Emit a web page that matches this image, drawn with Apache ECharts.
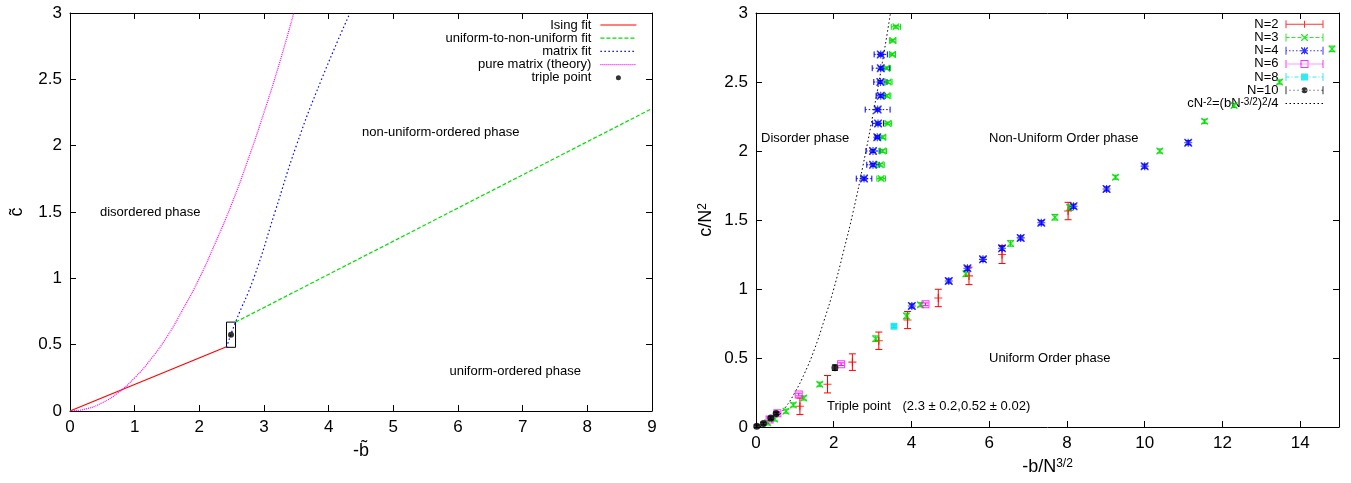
<!DOCTYPE html>
<html><head><meta charset="utf-8">
<script src="https://cdn.jsdelivr.net/npm/echarts@6/dist/echarts.min.js"></script>
<style>html,body{margin:0;padding:0;background:#fff}#c{width:1351px;height:483px}</style>
</head><body><div id="c"></div>
<script>
// ================= DATA =================
// Left panel (c~ vs -b~)
const leftXTicks = [0,1,2,3,4,5,6,7,8,9];
const leftYTicks = [0,0.5,1,1.5,2,2.5,3];
const isingFit   = [[0,0],[2.42,0.484]];
const uniformFit = [[2.56,0.67],[9,2.28]];
const matrixFit  = [[2.42,0.48],[2.56,0.67],[2.84,1.0],[3.17,1.5],[3.50,2.0],[3.89,2.5],[4.33,3.0]];
const pureMatrix = [[0,0],[0.25,0.016],[0.5,0.063],[0.75,0.14],[1,0.25],[1.25,0.39],[1.5,0.56],[1.75,0.77],[2,1.0],[2.25,1.27],[2.5,1.56],[2.75,1.89],[3,2.25],[3.25,2.64],[3.46,3.0]];
const triplePoint = [[2.49,0.575,0.07,0.095]]; // x, y, xerr, yerr (box)

// Right panel (c/N^2 vs -b/N^{3/2}); each point: [x, y, xerr, yerr]
const n2 = [[1.13,0.15,0,0.06],[1.84,0.31,0,0.063],[2.48,0.47,0,0.06],[3.16,0.625,0,0.063],[3.90,0.775,0,0.062],
            [4.69,0.935,0,0.063],[5.48,1.095,0,0.063],[6.33,1.25,0,0.065],[8.03,1.565,0,0.063]];
const n3 = [[0.30,0.03,0,0.015],[0.48,0.058,0,0.015],[0.77,0.115,0,0.015],[0.96,0.16,0,0.015],[1.23,0.21,0,0.015],[1.64,0.31,0,0.015],
            [3.08,0.64,0,0.02],[3.87,0.805,0,0.02],[4.23,0.886,0,0.015],[5.40,1.11,0,0.02],[6.55,1.33,0,0.02],[7.69,1.52,0,0.02],
            [8.07,1.59,0,0.02],[9.25,1.81,0,0.015],[10.39,2.0,0,0.015],[11.54,2.215,0,0.015],[12.30,2.33,0,0.015],[13.47,2.50,0,0.015],[14.82,2.74,0,0.02],
            [3.60,2.9,0.12,0.01],[3.52,2.8,0.08,0.01],[3.51,2.7,0.08,0.01],[3.36,2.6,0.1,0.01],[3.40,2.5,0.1,0.01],[3.37,2.4,0.1,0.01],
            [3.39,2.2,0.1,0.01],[3.26,2.1,0.08,0.01],[3.26,2.0,0.1,0.01],[3.20,1.9,0.1,0.01],[3.22,1.8,0.11,0.01]];
const n4 = [[3.21,2.7,0.17,0.01],[3.21,2.6,0.22,0.01],[3.20,2.5,0.17,0.01],[3.21,2.4,0.12,0.01],[3.13,2.3,0.32,0.01],
            [3.14,2.2,0.14,0.01],[3.12,2.1,0.05,0.01],[3.01,2.0,0.18,0.01],[3.01,1.9,0.16,0.01],[2.78,1.8,0.2,0.01],
            [4.01,0.877,0,0.015],[4.96,1.058,0,0.015],[5.44,1.15,0,0.015],[5.84,1.215,0,0.015],[6.33,1.295,0,0.015],[6.81,1.37,0,0.015],
            [7.34,1.48,0,0.015],[8.17,1.60,0,0.015],[9.02,1.725,0,0.015],[10.0,1.89,0,0.015],[11.12,2.06,0,0.015]];
const n6 = [[0.35,0.055,0,0.01],[0.55,0.10,0,0.01],[1.10,0.235,0,0.01],[2.19,0.455,0,0.01],[4.36,0.889,0,0.01]];
const n8 = [[3.55,0.73,0,0.01]];
const n10 = [[0.02,0.005,0,0.01],[0.19,0.025,0,0.01],[0.38,0.065,0,0.01],[0.52,0.097,0,0.01],[2.03,0.43,0,0.02]];
const theoryCurve = [[0,0],[0.25,0.016],[0.5,0.063],[0.75,0.14],[1,0.25],[1.25,0.39],[1.5,0.56],[1.75,0.77],[2,1.0],[2.25,1.27],[2.5,1.56],[2.75,1.89],[3,2.25],[3.25,2.64],[3.46,3.0]];

// ================= STYLE HELPERS =================
const FONT = 'Liberation Sans, Arial, Helvetica, sans-serif';
function R(x,y,w,h){return 'M'+x+','+y+'h'+w+'v'+h+'h'+(-w)+'z';}
const mPlus = R(18.5,0.5,1,7)+R(15.5,3.5,7,1);
const mX = 'M15.5,0.5L16.5,0.5L22.5,6.5L22.5,7.5L21.5,7.5L15.5,1.5Z M21.5,0.5L22.5,0.5L22.5,1.5L16.5,7.5L15.5,7.5L15.5,6.5Z';
const mBox = 'M15,0h8v8h-8z M16,1v6h6v-6z';
const mFill = R(15.5,0.5,7,7);
const mCirc = 'M16,4a3,3 0 1,0 6,0a3,3 0 1,0 -6,0z';
function legIcon(pattern, marker){
  let p = R(0,0,1,8)+R(37,0,1,8);
  if(!pattern){ p += R(0,3.5,38,1); }
  else { let x=0, k=0; while(x<38){ const on=pattern[k%pattern.length], off=pattern[(k+1)%pattern.length]; p+=R(x,3.5,Math.min(on,38-x),1); x+=on+off; k+=2; } }
  return 'path://'+p+' '+marker;
}
const symPlus = 'path://M3,0h1v7h-1z M0,3h7v1h-7z';
const symX = 'path://M0,0L1,0L7,6L7,7L6,7L0,1Z M6,0L7,0L7,1L1,7L0,7L0,6Z';
const symStar = 'path://M0,0L1,0L7,6L7,7L6,7L0,1Z M6,0L7,0L7,1L1,7L0,7L0,6Z M3,0h1v7h-1z M0,3h7v1h-7z';
const symBox = 'path://M0,0h8v8h-8z M1,1v6h6v-6z M3.5,3.5h1v1h-1z';
const noSym = {color:'rgba(0,0,0,0)', borderColor:'rgba(0,0,0,0)', borderWidth:0, opacity:0};

function errRender(cap, dash, width){
  return function(params, api){
    const x=api.value(0), y=api.value(1), ex=api.value(2), ey=api.value(3);
    const color = api.visual('color');
    const cst = {stroke: color, lineWidth: width, fill: null};
    const dst = {stroke: color, lineWidth: width, fill: null, lineDash: dash};
    const ch = [];
    if(ey>0){
      const a=api.coord([x,y+ey]), b=api.coord([x,y-ey]);
      ch.push({type:'line', shape:{x1:a[0],y1:a[1],x2:b[0],y2:b[1]}, style:cst});
      ch.push({type:'line', shape:{x1:a[0]-cap,y1:a[1],x2:a[0]+cap,y2:a[1]}, style:cst});
      ch.push({type:'line', shape:{x1:b[0]-cap,y1:b[1],x2:b[0]+cap,y2:b[1]}, style:cst});
    }
    if(ex>0){
      const a=api.coord([x-ex,y]), b=api.coord([x+ex,y]);
      ch.push({type:'line', shape:{x1:a[0],y1:a[1],x2:b[0],y2:b[1]}, style:dst});
      ch.push({type:'line', shape:{x1:a[0],y1:a[1]-cap,x2:a[0],y2:a[1]+cap}, style:cst});
      ch.push({type:'line', shape:{x1:b[0],y1:b[1]-cap,x2:b[0],y2:b[1]+cap}, style:cst});
    }
    return {type:'group', children: ch};
  };
}
function boxRender(params, api){
  const x=api.value(0), y=api.value(1), ex=api.value(2), ey=api.value(3);
  const a=api.coord([x-ex,y+ey]), b=api.coord([x+ex,y-ey]);
  return {type:'rect', shape:{x:a[0],y:a[1],width:b[0]-a[0],height:b[1]-a[1]}, style:{stroke:'#000',lineWidth:1,fill:null}};
}

const nCfg = [
  {name:'N=2', data:n2, color:'#ff0000', sym:symPlus, size:8, dash:null, cap:3.5, icon:legIcon(null,mPlus)},
  {name:'N=3', data:n3, color:'#00e000', sym:symX, size:7, dash:[4,2], cap:3, icon:legIcon([4,2],mX)},
  {name:'N=4', data:n4, color:'#0000ff', sym:symStar, size:8, dash:[1.5,2], cap:3, icon:legIcon([1.5,2],mX+' '+mPlus)},
  {name:'N=6', data:n6, color:'#ff00ff', sym:symBox, size:8, dash:[1,1], cap:3, icon:legIcon([1,1],mBox)},
  {name:'N=8', data:n8, color:'#00e5ee', sym:'rect', size:7, dash:[4,2,1,2], cap:3, icon:legIcon([4,2,1,2],mFill)},
  {name:'N=10', data:n10, color:'#000000', sym:'circle', size:7, dash:[1,3], cap:3, icon:legIcon([1,3],mCirc)}
];

// ================= AXES =================
const tickStyle = {show:true, inside:true, length:6, lineStyle:{color:'#000',width:1}};
const lineStyleAx = {show:true, onZero:false, lineStyle:{color:'#000',width:1}};
const labelStyle = {color:'#000', fontSize:17, fontFamily:FONT, margin:8};
function xAx(grid,min,max,interval,pos,extra){
  return Object.assign({type:'value', gridIndex:grid, min:min, max:max, interval:interval, position:pos,
    axisLine:lineStyleAx, axisTick:tickStyle, splitLine:{show:false},
    axisLabel: pos==='bottom' ? Object.assign({}, labelStyle) : {show:false}}, extra||{});
}
function yAx(grid,pos,extra){
  return Object.assign({type:'value', gridIndex:grid, min:0, max:3, interval:0.5, position:pos,
    axisLine:lineStyleAx, axisTick:tickStyle, splitLine:{show:false},
    axisLabel: pos==='left' ? Object.assign({}, labelStyle) : {show:false}}, extra||{});
}
const supRich = {s:{fontSize:12, fontFamily:FONT, color:'#000', verticalAlign:'top', lineHeight:12}};

const option = {
  animation:false,
  backgroundColor:'#fff',
  textStyle:{fontFamily:FONT},
  grid:[
    {left:70, top:13, width:582, height:398, containLabel:false, outerBoundsMode:'none'},
    {left:756, top:13, width:583, height:414, containLabel:false, outerBoundsMode:'none'}
  ],
  xAxis:[
    xAx(0,0,9,1,'bottom',{name:'-b\u0303', nameLocation:'middle', nameGap:31, nameTextStyle:{fontSize:18,color:'#000',fontFamily:FONT}}),
    xAx(0,0,9,1,'top'),
    xAx(1,0,15,2,'bottom',{name:'-b/N{s|3/2}', nameLocation:'middle', nameGap:31,
        nameTextStyle:{fontSize:18,color:'#000',fontFamily:FONT,rich:supRich},
        axisLabel:Object.assign({}, labelStyle, {showMaxLabel:false})}),
    xAx(1,0,15,2,'top')
  ],
  yAxis:[
    yAx(0,'left',{name:'c\u0303', nameLocation:'middle', nameGap:44, nameTextStyle:{fontSize:18,color:'#000',fontFamily:FONT}}),
    yAx(0,'right'),
    yAx(1,'left',{name:'c/N{s|2}', nameLocation:'middle', nameGap:41, nameTextStyle:{fontSize:18,color:'#000',fontFamily:FONT,rich:supRich}}),
    yAx(1,'right')
  ],
  legend:[
    {orient:'vertical', align:'right', right:714, top:18.5, padding:0, itemGap:0.2, itemWidth:36, itemHeight:5,
     selectedMode:false, lineStyle:{width:1.2},
     textStyle:{fontSize:13, lineHeight:13, color:'#000', fontFamily:FONT, padding:[0,4,0,0]},
     data:[{name:'Ising fit', itemStyle:noSym},{name:'uniform-to-non-uniform fit', itemStyle:noSym},
           {name:'matrix fit', itemStyle:noSym},{name:'pure matrix (theory)', itemStyle:noSym},{name:'triple point'}]},
    {orient:'vertical', align:'right', right:27, top:17.8, padding:0, itemGap:0.2, itemWidth:38, itemHeight:8,
     selectedMode:false, itemStyle:{borderWidth:0}, lineStyle:{width:1},
     textStyle:{fontSize:13, lineHeight:13, color:'#000', fontFamily:FONT, padding:[0,2,0,0], rich:{s:{fontSize:10,fontFamily:FONT,color:'#000',verticalAlign:'top',lineHeight:10}}},
     formatter:function(n){ return n==='theory' ? 'cN{s|-2}=(bN{s|-3/2}){s|2}/4' : n; },
     data: nCfg.map(function(c){return {name:c.name, icon:c.icon};}).concat([{name:'theory', itemStyle:noSym}])}
  ],
  graphic:[
    {type:'text', x:100, y:212, style:{text:'disordered phase', fontSize:13, fontFamily:FONT, fill:'#000', verticalAlign:'middle'}},
    {type:'text', x:362, y:132.6, style:{text:'non-uniform-ordered phase', fontSize:13, fontFamily:FONT, fill:'#000', verticalAlign:'middle'}},
    {type:'text', x:449.5, y:371.7, style:{text:'uniform-ordered phase', fontSize:13, fontFamily:FONT, fill:'#000', verticalAlign:'middle'}},
    {type:'text', x:761, y:138, style:{text:'Disorder phase', fontSize:13, fontFamily:FONT, fill:'#000', verticalAlign:'middle'}},
    {type:'text', x:989, y:138, style:{text:'Non-Uniform Order phase', fontSize:13, fontFamily:FONT, fill:'#000', verticalAlign:'middle'}},
    {type:'text', x:989, y:358.5, style:{text:'Uniform Order phase', fontSize:13, fontFamily:FONT, fill:'#000', verticalAlign:'middle'}},
    {type:'text', x:827, y:406.7, style:{text:'Triple point', fontSize:13, fontFamily:FONT, fill:'#000', verticalAlign:'middle'}},
    {type:'text', x:902.5, y:406.7, style:{text:'(2.3 \u00b1 0.2,0.52 \u00b1 0.02)', fontSize:13, fontFamily:FONT, fill:'#000', verticalAlign:'middle'}}
  ],
  series:[]
};

// Left series
option.series.push(
  {name:'Ising fit', type:'line', xAxisIndex:0, yAxisIndex:0, data:isingFit, symbol:'none', color:'#ff0000', lineStyle:{color:'#ff0000', width:1.2}},
  {name:'uniform-to-non-uniform fit', type:'line', xAxisIndex:0, yAxisIndex:0, data:uniformFit, symbol:'none', color:'#00e000', lineStyle:{color:'#00e000', width:1.2, type:[4,2]}},
  {name:'matrix fit', type:'line', xAxisIndex:0, yAxisIndex:0, data:matrixFit, symbol:'none', smooth:0.5, color:'#0000ff', lineStyle:{color:'#0000ff', width:1.2, type:[1.5,2.5]}},
  {name:'pure matrix (theory)', type:'line', xAxisIndex:0, yAxisIndex:0, data:pureMatrix, symbol:'none', smooth:true, color:'#ff00ff', lineStyle:{color:'#ff00ff', width:1.2, type:[1,1]}},
  {name:'triple point', type:'scatter', xAxisIndex:0, yAxisIndex:0, data:triplePoint, symbol:'circle', symbolSize:6, color:'#000', z:4},
  {name:'tpbox', type:'custom', xAxisIndex:0, yAxisIndex:0, data:triplePoint, renderItem:boxRender, encode:{x:0,y:1}, z:3}
);
// Right series
nCfg.forEach(function(c){
  option.series.push({name:c.name, type:'scatter', xAxisIndex:2, yAxisIndex:2, data:c.data, symbol:c.sym, symbolSize:c.size,
    symbolKeepAspect:true, color:c.color, itemStyle:{color:c.color, borderWidth:0}, z:4});
  option.series.push({name:c.name, type:'custom', xAxisIndex:2, yAxisIndex:2, data:c.data, color:c.color,
    itemStyle:{color:c.color}, renderItem:errRender(c.cap, c.dash, 1), encode:{x:0,y:1}, z:3});
});
option.series.push({name:'theory', type:'line', xAxisIndex:2, yAxisIndex:2, data:theoryCurve, symbol:'none', smooth:true,
  color:'#000', lineStyle:{color:'#000', width:1, type:[1.5,2.5]}, z:2});

const chart = echarts.init(document.getElementById('c'), null, {renderer:'canvas'});
chart.setOption(option);
</script>
</body></html>
